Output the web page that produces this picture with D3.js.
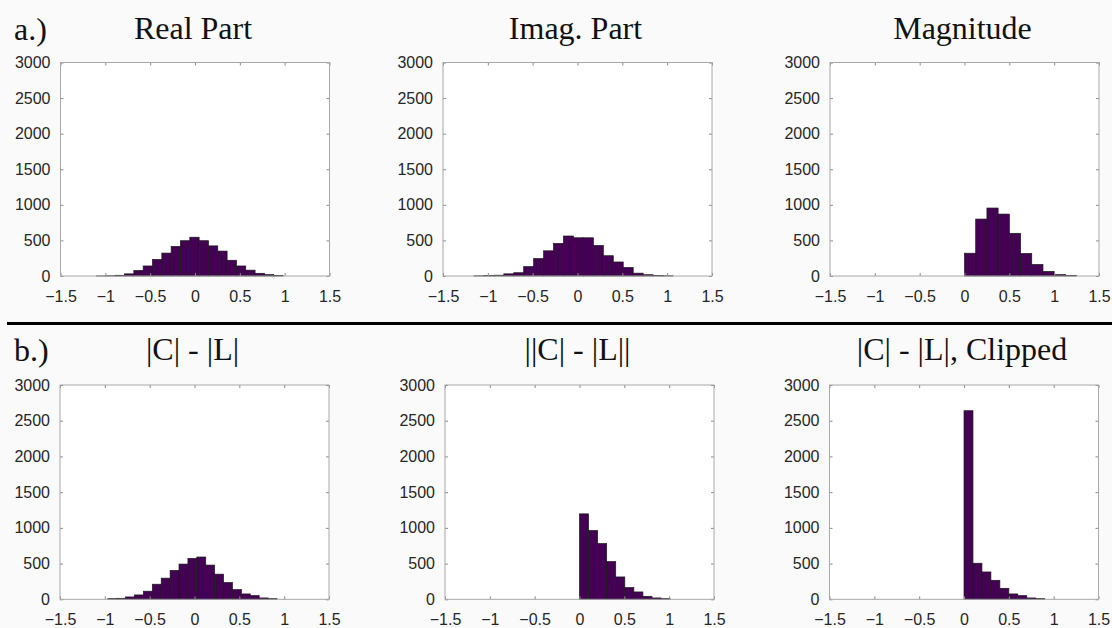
<!DOCTYPE html>
<html>
<head>
<meta charset="utf-8">
<script src="https://cdn.jsdelivr.net/npm/d3@7"></script>
<style>
  html, body { margin: 0; padding: 0; background: #fafafa; }
  svg { display: block; }
</style>
</head>
<body>
<svg id="fig" width="1112" height="628"></svg>
<script>
// Histogram counts per panel: first bin edge, bin width, counts per bin
const realStart = -1.098, realWidth = 0.104;
const realCounts = [1, 3, 10, 30, 78, 141, 232, 322, 416, 496, 545, 496, 423, 350, 221, 141, 82, 38, 19, 7];

const imagStart = -1.155, imagWidth = 0.111;
const imagCounts = [2, 5, 11, 30, 46, 132, 245, 354, 458, 562, 537, 537, 428, 285, 197, 120, 40, 18, 7, 3];

const magStart = 0, magWidth = 0.125;
const magCounts = [320, 800, 955, 870, 600, 316, 162, 64, 19, 9];

const diffStart = -0.967, diffWidth = 0.0993;
const diffCounts = [9, 14, 33, 61, 113, 211, 296, 404, 493, 573, 592, 479, 352, 235, 136, 75, 52, 19, 9];

const absDiffStart = 0, absDiffWidth = 0.101;
const absDiffCounts = [1196, 963, 780, 528, 313, 164, 103, 42, 19, 9];

const clipStart = 0, clipWidth = 0.1;
const clipCounts = [2640, 505, 383, 266, 154, 75, 51, 19, 9];

const titles = ["Real Part", "Imag. Part", "Magnitude", "|C| - |L|", "||C| - |L||", "|C| - |L|, Clipped"];
const rowLabels = ["a.)", "b.)"];
const xTicks = [-1.5, -1, -0.5, 0, 0.5, 1, 1.5];
const yTicks = [0, 500, 1000, 1500, 2000, 2500, 3000];
const xDomain = [-1.5, 1.5];
const yDomain = [0, 3000];

const series = [
  { start: realStart, width: realWidth, counts: realCounts },
  { start: imagStart, width: imagWidth, counts: imagCounts },
  { start: magStart, width: magWidth, counts: magCounts },
  { start: diffStart, width: diffWidth, counts: diffCounts },
  { start: absDiffStart, width: absDiffWidth, counts: absDiffCounts },
  { start: clipStart, width: clipWidth, counts: clipCounts }
];

// Panel placement on the figure
const layout = [
  { left: 60.5, top: 62.5, bottom: 276 },
  { left: 443,  top: 62.5, bottom: 276 },
  { left: 830,  top: 62.5, bottom: 276 },
  { left: 60,   top: 385,  bottom: 599.3 },
  { left: 445,  top: 385,  bottom: 599.3 },
  { left: 829.5, top: 385, bottom: 599.3 }
];
const panelW = 269;
const titleBaselines = [39, 360];

const svg = d3.select("#fig");
const serif = "'Liberation Serif', 'Times New Roman', Times, serif";
const sans = "'Liberation Sans', Arial, Helvetica, sans-serif";

// Row labels
rowLabels.forEach((t, r) => {
  svg.append("text")
    .attr("x", 14).attr("y", titleBaselines[r] + 1)
    .attr("font-family", serif).attr("font-size", 32)
    .attr("fill", "#111").text(t);
});

// Divider between rows
svg.append("line")
  .attr("x1", 7).attr("x2", 1112)
  .attr("y1", 323.5).attr("y2", 323.5)
  .attr("stroke", "#000").attr("stroke-width", 3);

series.forEach((s, i) => {
  const L = layout[i];
  const x = d3.scaleLinear().domain(xDomain).range([L.left, L.left + panelW]);
  const y = d3.scaleLinear().domain(yDomain).range([L.bottom, L.top]);
  const g = svg.append("g");

  // axes background
  g.append("rect")
    .attr("x", x.range()[0]).attr("y", L.top)
    .attr("width", panelW).attr("height", L.bottom - L.top)
    .attr("fill", "#fff");

  // histogram bars
  g.append("g").selectAll("rect")
    .data(s.counts.map((c, k) => ({ x0: s.start + k * s.width, x1: s.start + (k + 1) * s.width, c })))
    .join("rect")
    .attr("x", d => x(d.x0))
    .attr("width", d => x(d.x1) - x(d.x0))
    .attr("y", d => y(d.c))
    .attr("height", d => y(0) - y(d.c))
    .attr("fill", "#440154")
    .attr("stroke", "#1a1a1a")
    .attr("stroke-width", 0.7);

  const styleAxis = (sel, showLabels) => {
    sel.select(".domain").remove();
    sel.selectAll(".tick line").attr("stroke", "#8a8a8a");
    sel.selectAll(".tick text")
      .attr("font-family", sans).attr("font-size", 16).attr("fill", "#262626");
    if (!showLabels) sel.selectAll(".tick text").remove();
  };

  g.append("g").attr("transform", `translate(0,${L.bottom})`)
    .call(d3.axisBottom(x).tickValues(xTicks).tickFormat(d3.format("")).tickSize(-3).tickPadding(14.5))
    .call(s2 => styleAxis(s2, true));
  g.append("g").attr("transform", `translate(0,${L.top})`)
    .call(d3.axisTop(x).tickValues(xTicks).tickSize(-3))
    .call(s2 => styleAxis(s2, false));
  g.append("g").attr("transform", `translate(${x.range()[0]},0)`)
    .call(d3.axisLeft(y).tickValues(yTicks).tickFormat(d3.format("")).tickSize(-3).tickPadding(10))
    .call(s2 => styleAxis(s2, true));
  g.append("g").attr("transform", `translate(${x.range()[1]},0)`)
    .call(d3.axisRight(y).tickValues(yTicks).tickSize(-3))
    .call(s2 => styleAxis(s2, false));

  // axes box
  g.append("rect")
    .attr("x", x.range()[0]).attr("y", L.top)
    .attr("width", panelW).attr("height", L.bottom - L.top)
    .attr("fill", "none").attr("stroke", "#a8a8a8").attr("stroke-width", 1);

  // panel title
  svg.append("text")
    .attr("x", L.left + panelW / 2 - 2)
    .attr("y", titleBaselines[Math.floor(i / 3)])
    .attr("text-anchor", "middle")
    .attr("font-family", serif).attr("font-size", 32)
    .attr("fill", "#111").text(titles[i]);
});
</script>
</body>
</html>
